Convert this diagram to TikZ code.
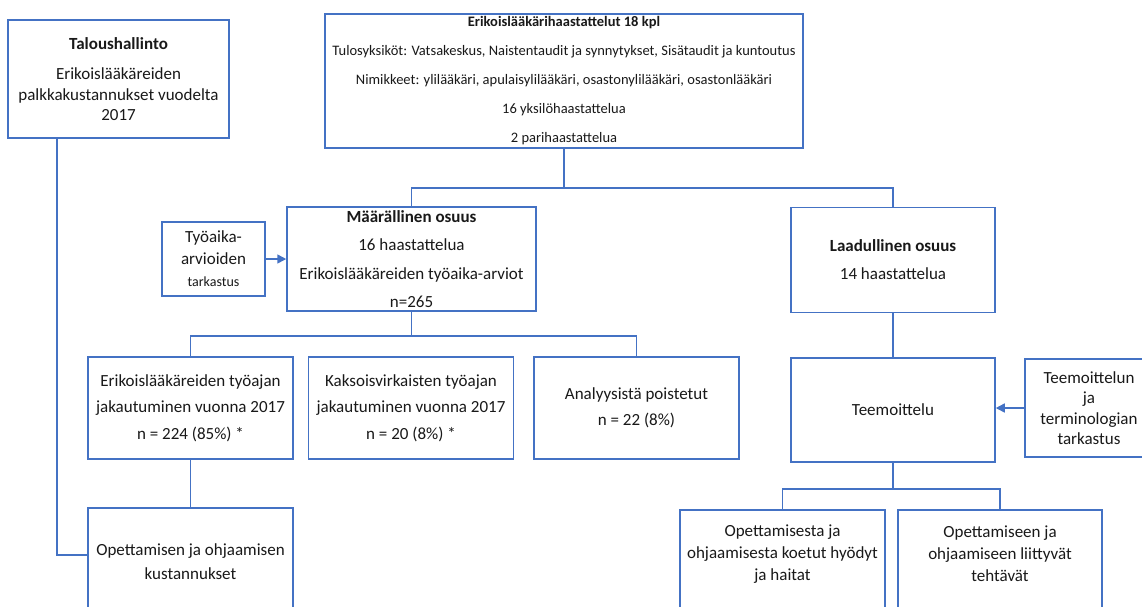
\documentclass[tikz,border=0pt]{standalone}
\usepackage{fontspec}
\setmainfont{Carlito}
\usetikzlibrary{positioning,arrows.meta,calc}
\definecolor{boxblue}{RGB}{68,114,196}
\definecolor{inkgrey}{RGB}{25,25,25}
\tikzset{
    chart/.style={x=1pt,y=1pt,>={Triangle[length=9pt,width=9pt]},line width=1.5pt},
    box/.style={rectangle,draw=boxblue,fill=white,align=center,inner sep=0pt,
                text=inkgrey,font=\fontsize{17}{26.5}\selectfont},
    wide/.style={minimum width=205pt,minimum height=102pt},
    link/.style={draw=boxblue},
    feed/.style={draw=boxblue,->,color=boxblue},
    }

\begin{document}
\begin{tikzpicture}[chart]
    \clip (0,0) rectangle (1142,-606);

    \node[box, minimum width=221pt, minimum height=118pt, font=\fontsize{17}{20.5}\selectfont] (talous) at (118.5,-79)
        {\textbf{Taloushallinto}\\[10pt]Erikoislääkäreiden\\palkkakustannukset vuodelta\\2017};
    \node[box, minimum width=478pt, minimum height=134pt, font=\fontsize{14.5}{29}\selectfont] (haast) at (564,-81)
        {\textbf{Erikoislääkärihaastattelut 18 kpl}\\Tulosyksiköt: Vatsakeskus, Naistentaudit ja synnytykset, Sisätaudit ja kuntoutus\\Nimikkeet: ylilääkäri, apulaisylilääkäri, osastonylilääkäri, osastonlääkäri\\16 yksilöhaastattelua\\2 parihaastattelua};

    \node[box, minimum width=249pt, minimum height=104pt, font=\fontsize{17}{28.5}\selectfont] (maara) at (411.5,-259)
        {\textbf{Määrällinen osuus}\\16 haastattelua\\Erikoislääkäreiden työaika-arviot\\n=265};
    \node[box, minimum width=103pt, minimum height=74pt, font=\fontsize{17}{22}\selectfont] (tyoaika) at (213.5,-259)
        {Työaika-\\arvioiden\\{\fontsize{14}{22}\selectfont tarkastus}};
    \node[box, minimum width=204pt, minimum height=105pt, font=\fontsize{17}{28}\selectfont] (laad) at (893,-260)
        {\textbf{Laadullinen osuus}\\14 haastattelua};

    \node[box, wide] (k1) at (190.5,-408)
        {Erikoislääkäreiden työajan\\jakautuminen vuonna 2017\\n = 224 (85\%) *};
    \node[box, wide, right=14pt of k1] (k2)
        {Kaksoisvirkaisten työajan\\jakautuminen vuonna 2017\\n = 20 (8\%) *};
    \node[box, wide, right=19pt of k2] (k3)
        {Analyysistä poistetut\\n = 22 (8\%)};

    \node[box, minimum width=204pt, minimum height=104pt] (teem) at (893,-410) {Teemoittelu};
    \node[box, minimum width=128pt, minimum height=98pt, font=\fontsize{17}{20.5}\selectfont] (teemtark) at (1089,-408)
        {Teemoittelun\\ja\\terminologian\\tarkastus};

    \node[box, minimum width=205pt, minimum height=108pt, font=\fontsize{17}{24}\selectfont] (kust) at (190.5,-562)
        {Opettamisen ja ohjaamisen\\kustannukset};
    \node[box, minimum width=205pt, minimum height=106pt] (hyo) at (782.5,-563) {};
    \node[box, draw=none, fill=none, font=\fontsize{17}{22}\selectfont] (hyotxt) at ([yshift=9pt]hyo.center)
        {Opettamisesta ja\\ohjaamisesta koetut hyödyt\\ja haitat};
    \node[box, minimum width=204pt, minimum height=106pt] (teht) at (1000,-563) {};
    \node[box, draw=none, fill=none, font=\fontsize{17}{22}\selectfont] (tehttxt) at ([yshift=9pt]teht.center)
        {Opettamiseen ja\\ohjaamiseen liittyvät\\tehtävät};

    % haastattelut -> osuudet
    \draw[link] (haast.south) -- ++(0,-39) coordinate (j1);
    \draw[link] (maara.north) |- (j1) -| (laad.north);

    % maarallinen osuus -> ryhmat
    \draw[link] (maara.south) -- ++(0,-24) coordinate (j2);
    \draw[link] (k1.north) |- (j2) -| (k3.north);
    \draw[link] (k1) -- (kust);
    \draw[link] ([xshift=-61.5pt]talous.south) |- ([yshift=7pt]kust.west);
    \draw[feed] (tyoaika) -- (maara);

    % laadullinen osuus
    \draw[link] (laad) -- (teem);
    \draw[feed] (teemtark.west) -- (teemtark.west -| teem.east);
    \draw[link] (teem.south) -- ++(0,-26) coordinate (j3);
    \draw[link] (hyo.north) |- (j3) -| (teht.north);
\end{tikzpicture}
\end{document}
